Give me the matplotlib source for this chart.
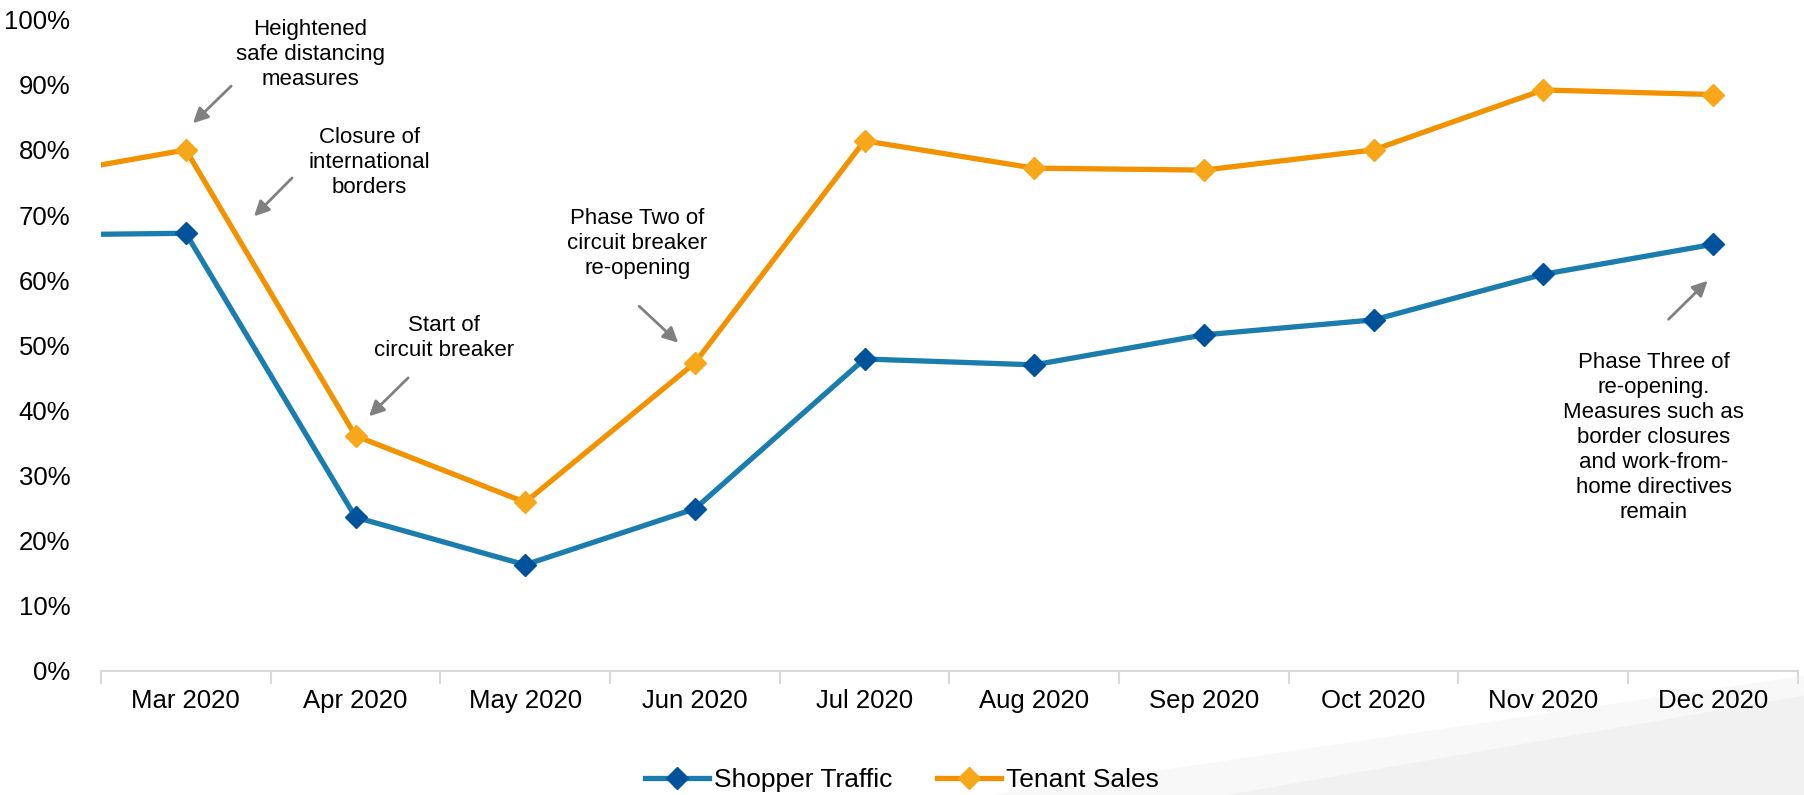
import matplotlib
matplotlib.use("Agg")
import matplotlib.pyplot as plt
from matplotlib.patches import Polygon

plt.rcParams['font.family'] = ['Liberation Sans', 'DejaVu Sans']

# Feb 2020 sits off the left edge; only the segment into Mar shows
months = ["Feb 2020", "Mar 2020", "Apr 2020", "May 2020", "Jun 2020", "Jul 2020",
          "Aug 2020", "Sep 2020", "Oct 2020", "Nov 2020", "Dec 2020"]
shopper_traffic = [66.9, 67.2, 23.6, 16.3, 24.9, 47.9, 47.0, 51.6, 53.9, 60.9, 65.5]
tenant_sales = [75.4, 80.0, 36.1, 25.9, 47.3, 81.4, 77.2, 76.9, 80.0, 89.2, 88.5]

notes = [
    ("Heightened\nsafe distancing\nmeasures", (0.732, 94.6), (0.267, 89.8), (0.042, 84.1)),
    ("Closure of\ninternational\nborders", (1.080, 78.1), (0.626, 75.7), (0.402, 69.8)),
    ("Start of\ncircuit breaker", (1.519, 51.1), (1.310, 45.0), (1.080, 39.1)),
    ("Phase Two of\ncircuit breaker\nre-opening", (2.660, 65.7), (2.672, 56.0), (2.902, 50.4)),
    ("Phase Three of\nre-opening.\nMeasures such as\nborder closures\nand work-from-\nhome directives\nremain",
     (8.651, 35.8), (8.739, 54.0), (8.969, 59.9)),
]

fig = plt.figure(figsize=(18.04, 7.95), dpi=100)

# light grey swoosh in the bottom right corner, behind everything
fig.patches.append(Polygon([(0.55, 0.0), (1.0, 0.15), (1.0, 0.0)], closed=True,
                           transform=fig.transFigure, facecolor="#f8f8f8", edgecolor="none", zorder=-2))
fig.patches.append(Polygon([(0.68, 0.0), (1.0, 0.125), (1.0, 0.0)], closed=True,
                           transform=fig.transFigure, facecolor="#f1f1f1", edgecolor="none", zorder=-1))

ax = fig.add_axes([0.056, 0.156, 0.9405, 0.8193])
ax.patch.set_alpha(0)
ax.set_zorder(1)

x = list(range(-1, len(months) - 1))
ax.plot(x, shopper_traffic, color="#1a7dad", lw=3.8, marker="D", markersize=11,
        markerfacecolor="#00539b", markeredgecolor="#00539b", label="Shopper Traffic", zorder=3)
ax.plot(x, tenant_sales, color="#f39200", lw=3.8, marker="D", markersize=11,
        markerfacecolor="#f6a81a", markeredgecolor="#f6a81a", label="Tenant Sales", zorder=3)

ax.set_xlim(-0.5, len(months) - 1.5)
ax.set_ylim(0, 100)

ax.set_xticks([i - 0.5 for i in range(len(months))])
ax.set_xticklabels([])
ax.set_xticks(x[1:], minor=True)
ax.set_xticklabels(months[1:], minor=True, fontsize=18.5)
ax.tick_params(axis="x", which="major", length=9, width=1.5, color="#d9d9d9")
ax.tick_params(axis="x", which="minor", length=0, pad=13)

ax.set_yticks(range(0, 101, 10))
ax.set_yticklabels([f"{v}%" for v in range(0, 101, 10)], fontsize=18.5)
ax.tick_params(axis="y", length=0, pad=22)

for s in ["top", "right", "left"]:
    ax.spines[s].set_visible(False)
ax.spines["bottom"].set_color("#d9d9d9")
ax.spines["bottom"].set_linewidth(1.5)

for txt, tpos, a0, a1 in notes:
    ax.text(tpos[0], tpos[1], txt, ha="center", va="center", fontsize=16, linespacing=1.25)
    ax.annotate("", xy=a1, xytext=a0,
                arrowprops=dict(arrowstyle="-|>,head_length=0.9,head_width=0.45",
                                color="#808080", lw=2, shrinkA=0, shrinkB=0))

leg = fig.legend(loc="center", bbox_to_anchor=(0.5, 0.019), ncol=2, frameon=False, fontsize=19,
                 handlelength=2.4, handletextpad=0.2, columnspacing=1.7)
leg.set_zorder(2)

plt.savefig("out.png", dpi=100)
plt.close()
